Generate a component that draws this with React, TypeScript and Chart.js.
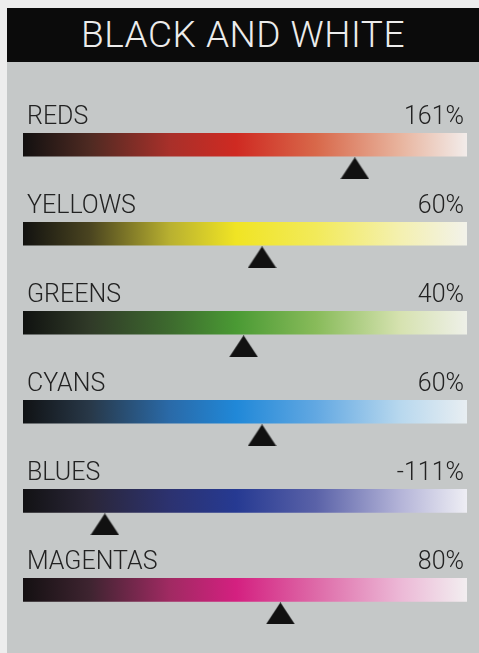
import React, { useEffect, useRef } from "react";
import { Chart, registerables } from "chart.js";

Chart.register(...registerables);

const channels = ["REDS", "YELLOWS", "GREENS", "CYANS", "BLUES", "MAGENTAS"];
const values = [161, 60, 40, 60, -111, 80];
const sliderMin = -200;
const sliderMax = 283;

const gradientStops = [0, 0.15, 0.33, 0.48, 0.66, 0.85, 1];
const palettes = [
  ["#121010", "#4e2a22", "#a8302a", "#cf2a22", "#d8684a", "#e8b49e", "#f2ecea"],
  ["#121210", "#4a4420", "#b8b030", "#f0e424", "#f2ea5a", "#f4f0b0", "#f2f2ea"],
  ["#101210", "#303a28", "#3d6a2e", "#4a9a34", "#88bb5a", "#d6e2b0", "#eef0e8"],
  ["#101214", "#283848", "#2a6aa8", "#2088d8", "#62a8e2", "#b8d8ee", "#e8eef2"],
  ["#121214", "#2a2638", "#2c3270", "#263a92", "#5a62a8", "#b4b4d8", "#eeeef4"],
  ["#141012", "#3e2430", "#a02a62", "#d42080", "#de6aa8", "#ecb8d6", "#f2eef0"],
];

const FONT = "Roboto, 'Liberation Sans', Arial, sans-serif";

function makeTriangle(): HTMLCanvasElement {
  const c = document.createElement("canvas");
  c.width = 29;
  c.height = 22;
  const g = c.getContext("2d")!;
  g.fillStyle = "#111111";
  g.beginPath();
  g.moveTo(0, 22);
  g.lineTo(14.5, 0);
  g.lineTo(29, 22);
  g.closePath();
  g.fill();
  return c;
}

const labelPlugin = {
  id: "rowLabels",
  afterDatasetsDraw(chart: any) {
    const { ctx, scales } = chart;
    const xs = scales.x;
    const ys = scales.y;
    ctx.save();
    ctx.font = `300 25px ${FONT}`;
    ctx.fillStyle = "#222222";
    ctx.textBaseline = "alphabetic";
    channels.forEach((name, i) => {
      const y = ys.getPixelForValue(i) - 20.5;
      ctx.textAlign = "left";
      ctx.fillText(name, xs.getPixelForValue(sliderMin) + 4, y);
      ctx.textAlign = "right";
      ctx.fillText(`${values[i]}%`, xs.getPixelForValue(sliderMax) - 3, y);
    });
    ctx.restore();
  },
};

export default function App() {
  const ref = useRef<HTMLCanvasElement | null>(null);

  useEffect(() => {
    document.body.style.margin = "0";
    const canvas = ref.current!;
    const tri = makeTriangle();
    const chart = new Chart(canvas, {
      type: "bar",
      data: {
        datasets: [
          {
            type: "bar",
            indexAxis: "y",
            order: 1,
            data: channels.map((_, i) => ({ x: [sliderMin, sliderMax], y: i })) as any,
            barThickness: 23,
            borderWidth: 0,
            backgroundColor: (c: any) => {
              const ch = c.chart;
              const xs = ch.scales.x;
              if (!ch.chartArea || !xs) return "#888";
              const g = ch.ctx.createLinearGradient(
                xs.getPixelForValue(sliderMin), 0,
                xs.getPixelForValue(sliderMax), 0
              );
              const pal = palettes[c.dataIndex] || palettes[0];
              gradientStops.forEach((s, k) => g.addColorStop(s, pal[k]));
              return g;
            },
          } as any,
          {
            type: "scatter",
            order: 0,
            data: values.map((v, i) => ({ x: v, y: i + 0.265 })),
            pointStyle: tri as any,
            pointRadius: 14,
            backgroundColor: "#111",
            borderWidth: 0,
            clip: false,
          } as any,
        ],
      },
      options: {
        animation: false,
        responsive: false,
        indexAxis: "y",
        layout: { autoPadding: false, padding: { left: 16, right: 12, top: 0, bottom: 0 } },
        plugins: { legend: { display: false }, tooltip: { enabled: false }, title: { display: false } },
        scales: {
          x: { type: "linear", min: sliderMin, max: sliderMax, display: false, offset: false },
          y: { type: "linear", min: -0.93, max: 5.71, reverse: true, display: false, offset: false },
        },
      } as any,
      plugins: [labelPlugin],
    });
    return () => chart.destroy();
  }, []);

  return (
    <div style={{ position: "relative", width: 479, height: 653, background: "#ededed", overflow: "hidden" }}>
      <div
        style={{
          position: "absolute",
          left: 7,
          top: 8,
          width: 472,
          height: 645,
          background: "#c5c8c8",
        }}
      >
        <div
          style={{
            height: 54,
            background: "#0b0b0b",
            color: "#ececec",
            fontFamily: FONT,
            fontWeight: 300,
            fontSize: 37,
            lineHeight: "54px",
            textAlign: "center",
            letterSpacing: 0.5,
          }}
        >
          BLACK AND WHITE
        </div>
        <canvas ref={ref} width={472} height={591} style={{ display: "block" }} />
      </div>
    </div>
  );
}
